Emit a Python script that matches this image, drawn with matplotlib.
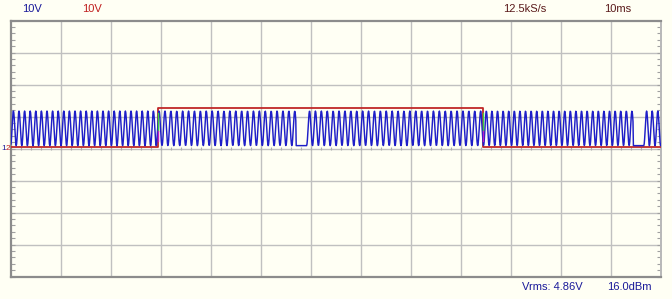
import numpy as np
import matplotlib
matplotlib.use('Agg')
import matplotlib.pyplot as plt

plt.rcParams['font.family'] = ['Liberation Sans', 'DejaVu Sans']

# screen: 13 div x 10 ms, 8 div x 10 V
t_span_ms = 130.0
v_span = 40.0

# channel 2 (red): data line, edges in ms and levels in V
red_edges_ms = [0.0, 29.4, 94.4, 130.0]
red_levels_v = [0.5, 12.6, 0.5]

# channel 1 (blue): carrier bursts
burst_start_ms = [0.0, 59.2, 126.6]
burst_stop_ms = [57.0, 124.4, 130.0]
period_low_ms = 1.12    # carrier period while ch2 is low
period_high_ms = 1.18   # carrier period while ch2 is high
blue_high_v = 11.7
blue_low_v = 0.9
sample_rate_khz = 12.5

# -- build ch1 samples the way the scope took them
dt = 1.0 / sample_rate_khz
t = np.arange(0.0, t_span_ms + dt, dt)
red = np.full_like(t, red_levels_v[-1])
for i in range(len(red_levels_v)):
    red[(t >= red_edges_ms[i]) & (t < red_edges_ms[i + 1])] = red_levels_v[i]
period = np.where(red > 6, period_high_ms, period_low_ms)

blue = np.full_like(t, blue_low_v)
mid = (blue_high_v + blue_low_v) / 2
amp = (blue_high_v - blue_low_v) / 2
for b0, b1 in zip(burst_start_ms, burst_stop_ms):
    m = (t >= b0) & (t <= b1)
    phi = -np.pi / 2 + np.cumsum(2 * np.pi * dt / period[m])
    blue[m] = mid + amp * np.sin(phi)

red_x = [red_edges_ms[0]]
red_y = [red_levels_v[0]]
for i in range(1, len(red_levels_v)):
    red_x += [red_edges_ms[i], red_edges_ms[i]]
    red_y += [red_levels_v[i - 1], red_levels_v[i]]
red_x.append(red_edges_ms[-1])
red_y.append(red_levels_v[-1])

bg = '#fffff4'
fig = plt.figure(figsize=(6.72, 2.99), dpi=100, facecolor=bg)
ax = fig.add_axes([11 / 672, 1 - 276.5 / 299, 650 / 672, 256 / 299])
ax.set_facecolor(bg)
ax.set_xlim(0, t_span_ms)
ax.set_ylim(-v_span, v_span)

for x in np.arange(10, t_span_ms, 10):
    ax.axvline(x, color='#c0c0c0', lw=1.0, zorder=1)
for y in np.arange(-30, 31, 10):
    ax.axhline(y, color='#c0c0c0', lw=1.0, zorder=1)
# small ticks along the centre line
ax.vlines(np.arange(2, t_span_ms, 2), -0.5, 0.5, color='#b0b0b0', lw=0.8, zorder=1)

ax.set_xticks([])
ax.set_yticks(np.arange(-40, 41, 2), minor=True)
ax.set_yticks([])
ax.tick_params(axis='y', which='minor', direction='in', length=3, width=0.8,
               color='#a0a0a0', left=True, right=True, labelleft=False)

for s in ['left', 'bottom', 'top']:
    ax.spines[s].set_color('#8c8c8c')
    ax.spines[s].set_linewidth(1.6)
ax.spines['right'].set_color('#b8b8b8')
ax.spines['right'].set_linewidth(1.4)

ax.plot(red_x, red_y, color='#c02828', lw=1.3, zorder=3)
ax.plot(t, blue, color='#1e1ec8', lw=1.05, zorder=4)

# colour fringes on the data edges
for e in red_edges_ms[1:-1]:
    ax.plot([e, e], [5.5, 11.0], color='#40d040', lw=1.0, zorder=5)
    ax.plot([e, e], [2.5, 5.5], color='#c020c0', lw=1.0, zorder=5)


def ftext(x, y, s, c, size=8):
    fig.text(x / 672, 1 - y / 299, s, color=c, fontsize=size, va='center', ha='left')


ftext(22, 9, '10V', '#1a1a9a')
ftext(82, 9, '10V', '#c02020')
ftext(503, 9, '12.5kS/s', '#5a1a1a')
ftext(604, 9, '10ms', '#5a1a1a')
ftext(522, 287, 'Vrms: 4.86V', '#1a1a9a')
ftext(607, 287, '16.0dBm', '#1a1a9a')
# ground markers for ch1 / ch2
ftext(1, 148, '1', '#1a1a9a', size=6)
ftext(5.8, 148, '2', '#c02020', size=6)

fig.savefig('out.png', dpi=100, facecolor=bg)
